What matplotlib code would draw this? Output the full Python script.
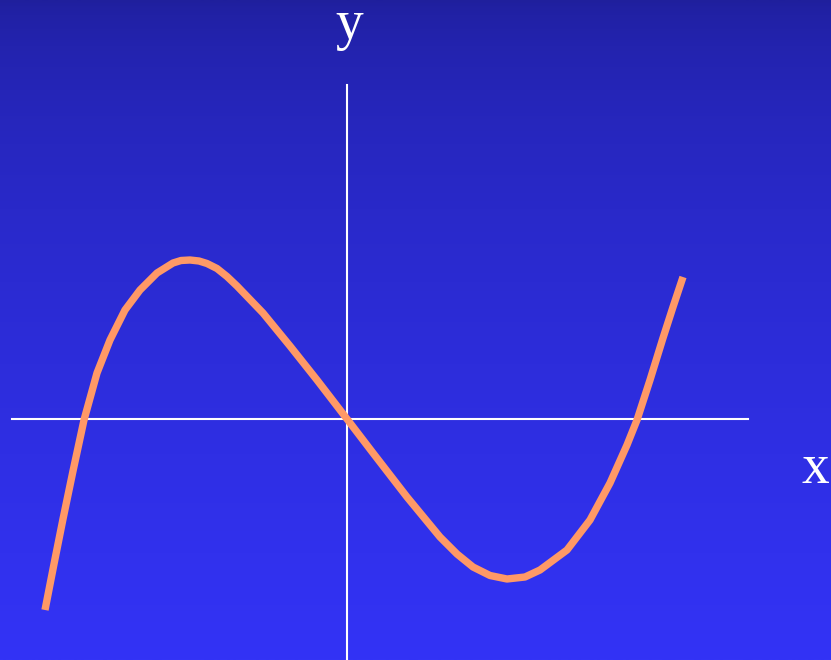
import numpy as np
from matplotlib import pyplot as plt

# curve points (units: 100 px, origin at the axes crossing)
curve_x = [-3.02, -2.93, -2.84, -2.74, -2.63, -2.50, -2.37, -2.22, -2.07, -1.90,
           -1.74, -1.66, -1.57, -1.48, -1.40, -1.30, -1.20, -1.10, -0.84, -0.57,
           -0.30, 0.00, 0.26, 0.60, 0.93, 1.10, 1.26, 1.43, 1.60, 1.78, 1.93,
           2.20, 2.43, 2.63, 2.80, 2.90, 3.03, 3.16, 3.26, 3.36]
curve_y = [-1.91, -1.45, -1.00, -0.52, -0.01, 0.46, 0.79, 1.09, 1.29, 1.46,
           1.56, 1.585, 1.59, 1.58, 1.555, 1.505, 1.425, 1.33, 1.06, 0.73,
           0.39, 0.00, -0.34, -0.78, -1.18, -1.35, -1.48, -1.565, -1.60, -1.58, -1.51,
           -1.31, -1.01, -0.64, -0.26, -0.01, 0.39, 0.81, 1.12, 1.42]

fig = plt.figure(figsize=(8.31, 6.6), dpi=100)
ax = fig.add_axes([0, 0, 1, 1])
x0, x1, y0, y1 = -3.47, 4.84, -2.41, 4.19
ax.set_xlim(x0, x1)
ax.set_ylim(y0, y1)
ax.axis("off")

# background gradient, dark blue at top to brighter blue at bottom
top = np.array([0x1f, 0x1f, 0x9c]) / 255
bot = np.array([0x33, 0x33, 0xf6]) / 255
t = np.linspace(0, 1, 256)[:, None] ** 0.6
grad = top + (bot - top) * t
ax.imshow(grad[:, None, :], extent=[x0, x1, y0, y1], aspect="auto", origin="upper", zorder=0)

# axes lines
ax.plot([-3.35, 4.01], [0, 0], color="white", lw=1.5, zorder=1)
ax.plot([0, 0], [y0, 3.34], color="white", lw=1.5, zorder=1)

ax.plot(curve_x, curve_y, color="#ff9966", lw=5.3, solid_capstyle="butt",
        solid_joinstyle="round", zorder=2)

ax.text(0.02, 3.94, "y", color="white", fontsize=40, family="Liberation Serif",
        ha="center", va="center")
ax.text(4.68, -0.50, "x", color="white", fontsize=40, family="Liberation Serif",
        ha="center", va="center")

plt.savefig("out.png", dpi=100)
